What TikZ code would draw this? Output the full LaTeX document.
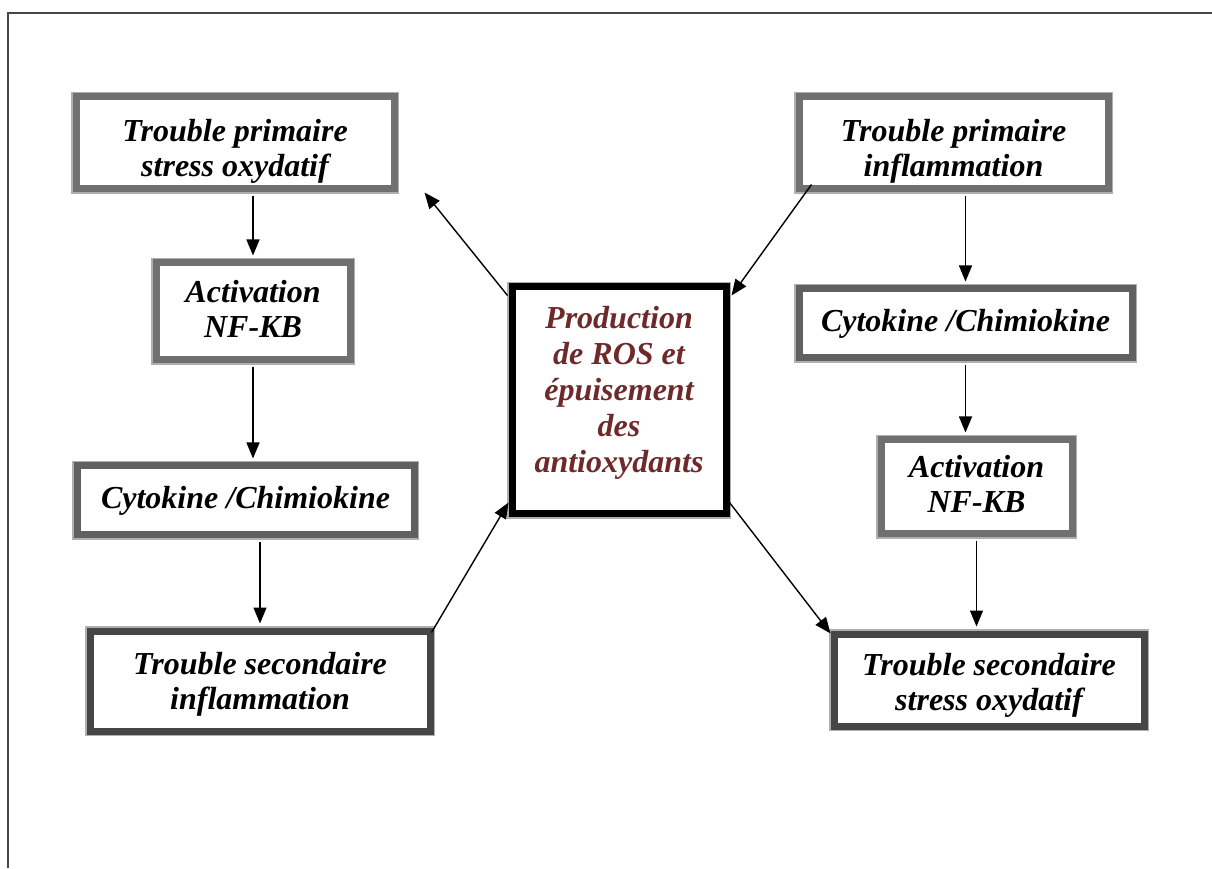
\documentclass[tikz,border=0pt]{standalone}
\usepackage{fontspec}
\setmainfont{Liberation Serif}
\usetikzlibrary{arrows.meta,calc}
\definecolor{rosred}{RGB}{110,42,42}
\definecolor{gA}{RGB}{112,112,112}
\definecolor{gB}{RGB}{96,96,96}
\definecolor{gC}{RGB}{70,70,70}
\definecolor{edge}{RGB}{175,175,175}
\newcommand{\bt}[2]{\raisebox{#1}[\height][\depth]{\begin{tabular}{@{}c@{}}#2\end{tabular}}}
\tikzset{
  x=1pt,y=1pt,
  boxbase/.style={rectangle, inner sep=0pt, fill=white,
    font=\fontsize{32}{35}\selectfont\bfseries\itshape,
    preaction={draw=edge, line width=10pt}, line width=7pt},
  boxA/.style={boxbase, draw=gA},
  boxB/.style={boxbase, draw=gB},
  boxC/.style={boxbase, draw=gC},
  centerbox/.style={boxbase, draw=black, text=rosred, font=\fontsize{32}{36}\selectfont\bfseries\itshape},
  arr/.style={line width=1.4pt, -{Triangle[length=16pt,width=13pt]}},
  frame/.style={draw={rgb,255:red,70;green,70;blue,70}, line width=2pt}
}
\begin{document}
\begin{tikzpicture}
\useasboundingbox (0,0) rectangle (1212,868);
\coordinate (fa) at (8,0);
\coordinate (fb) at (8,855);
\coordinate (fc) at (1212,855);
\draw[frame] (fa) -- (fb) -- (fc);

\node[boxA, minimum width=318, minimum height=92] (b1) at (235,725) {\bt{-9pt}{Trouble primaire\\stress oxydatif}};
\node[boxA, minimum width=194, minimum height=97] (b2) at (253,556.5) {\bt{-2pt}{Activation\\NF-KB}};
\node[boxB, minimum width=337, minimum height=69] (b3) at (245.5,367.5) {Cytokine /Chimiokine};
\node[boxC, minimum width=340, minimum height=100] (b4) at (260,187) {\bt{-4pt}{Trouble secondaire\\inflammation}};
\node[centerbox, minimum width=214, minimum height=227] (c) at (619,467.5) {\bt{7pt}{Production\\de ROS et\\épuisement\\des\\antioxydants}};
\node[boxA, minimum width=309, minimum height=92] (b5) at (953.5,725) {\bt{-9pt}{Trouble primaire\\inflammation}};
\node[boxB, minimum width=333, minimum height=69] (b6) at (965.5,544.5) {Cytokine /Chimiokine};
\node[boxA, minimum width=191, minimum height=94] (b7) at (976.5,381) {\bt{-1pt}{Activation\\NF-KB}};
\node[boxC, minimum width=310, minimum height=92] (b8) at (989,188) {\bt{-6pt}{Trouble secondaire\\stress oxydatif}};

% left column
\draw[arr] ([yshift=-4pt]b2.north |- b1.south) -- ([yshift=4pt]b2.north);
\draw[arr] ([yshift=-4pt]b2.south) -- ([yshift=4pt]b2.south |- b3.north);
\draw[arr] ([yshift=-4pt]b4.north |- b3.south) -- ([yshift=4pt]b4.north);
% right column
\draw[arr] ([yshift=-4pt]b6.north |- b5.south) -- ([yshift=4pt]b6.north);
\draw[arr] ([yshift=-4pt]b6.south) -- ([yshift=4pt]b6.south |- b7.north);
\draw[arr] ([yshift=-4pt]b7.south) -- ([yshift=4pt]b7.south |- b8.north);
% diagonals
\coordinate (c1s) at ($(c.north west)+(-1,-12)$);
\coordinate (c1t) at ($(b1.south east)+(27,-0)$);
\draw[arr] (c1s) -- (c1t);
\coordinate (c2s) at ($(b4.north east)+(-2,-5)$);
\coordinate (c2t) at ($(c.south west)+(0,15)$);
\draw[arr] (c2s) -- (c2t);
\coordinate (c3s) at ($(b5.south west)+(16,8)$);
\coordinate (c3t) at ($(c.north east)+(2,-12)$);
\draw[arr] (c3s) -- (c3t);
\coordinate (c4s) at ($(c.south east)+(0,15)$);
\coordinate (c4t) at ($(b8.north west)+(0,-3)$);
\draw[arr] (c4s) -- (c4t);
\end{tikzpicture}
\end{document}
